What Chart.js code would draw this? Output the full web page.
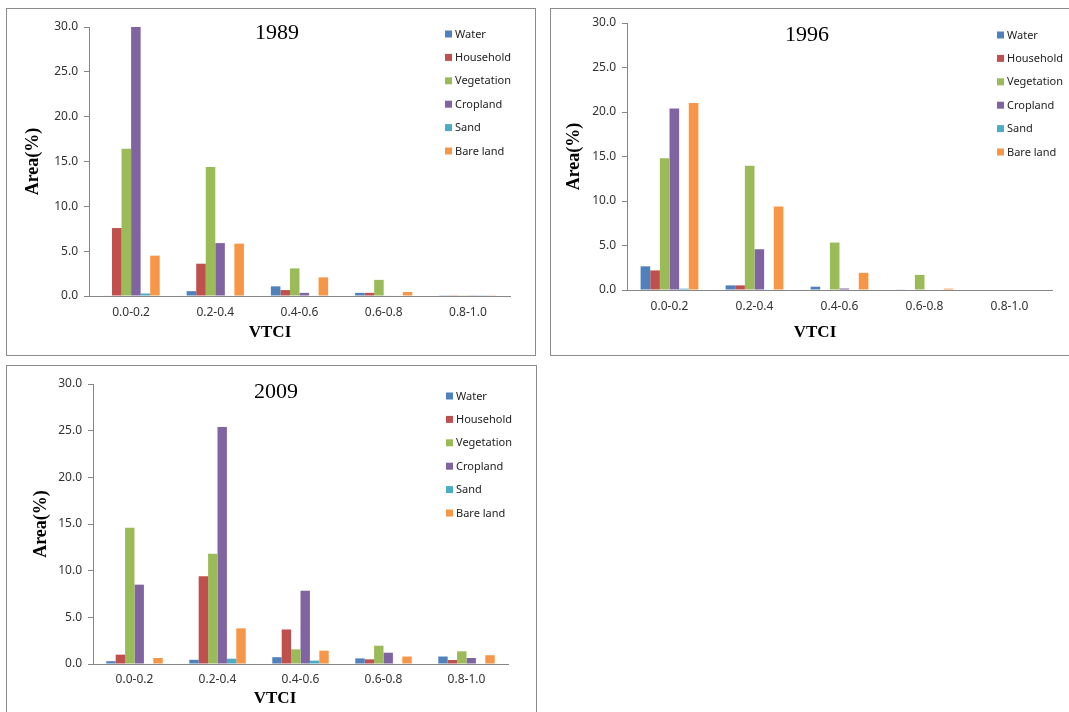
<!DOCTYPE html>
<html lang="en">
  <head>
    <meta charset="UTF-8" />
    <title>VTCI area</title>
    <script src="https://cdn.jsdelivr.net/npm/chart.js"></script>
    <style>
      body {
        margin: 0;
        background: #fff;
        width: 1069px;
        height: 712px;
        overflow: hidden;
        position: relative;
      }
      .box {
        position: absolute;
        border: 1px solid #8c8c8c;
        background: #fff;
      }
      .box canvas {
        position: absolute;
        left: 0;
        top: 0;
      }
    </style>
  </head>
  <body>
    <div class="box" style="left: 6px; top: 8px; width: 528px; height: 346px">
      <canvas id="c1989" width="528" height="346"></canvas>
    </div>
    <div class="box" style="left: 550px; top: 8px; width: 530px; height: 346px">
      <canvas id="c1996" width="530" height="346"></canvas>
    </div>
    <div class="box" style="left: 6px; top: 365px; width: 529px; height: 360px">
      <canvas id="c2009" width="529" height="346"></canvas>
    </div>
  </body>
  <script>
    const categories = ["0.0-0.2", "0.2-0.4", "0.4-0.6", "0.6-0.8", "0.8-1.0"];
    const classes = ["Water", "Household", "Vegetation", "Cropland", "Sand", "Bare land"];
    const colors = ["#4f81bd", "#c0504d", "#9bbb59", "#8064a2", "#4bacc6", "#f79646"];
    const yTicks = [0, 5, 10, 15, 20, 25, 30];

    // 1989
    const water1989 = [0.05, 0.54, 1.08, 0.35, 0.08];
    const household1989 = [7.58, 3.6, 0.66, 0.35, 0.08];
    const vegetation1989 = [16.43, 14.38, 3.08, 1.8, 0.08];
    const cropland1989 = [30.0, 5.9, 0.35, 0.05, 0.08];
    const sand1989 = [0.28, 0.05, 0.05, 0.05, 0.08];
    const bare1989 = [4.5, 5.84, 2.08, 0.45, 0.08];

    // 1996
    const water1996 = [2.66, 0.52, 0.37, 0.07, 0];
    const household1996 = [2.2, 0.52, 0, 0, 0];
    const vegetation1996 = [14.8, 13.95, 5.33, 1.7, 0];
    const cropland1996 = [20.4, 4.58, 0.17, 0, 0];
    const sand1996 = [0.15, 0.05, 0, 0, 0];
    const bare1996 = [21.0, 9.38, 1.93, 0.15, 0];

    // 2009
    const water2009 = [0.3, 0.45, 0.73, 0.6, 0.8];
    const household2009 = [1.0, 9.4, 3.7, 0.5, 0.43];
    const vegetation2009 = [14.6, 11.8, 1.57, 1.96, 1.36];
    const cropland2009 = [8.5, 25.4, 7.85, 1.21, 0.64];
    const sand2009 = [0.05, 0.57, 0.36, 0.05, 0.05];
    const bare2009 = [0.64, 3.82, 1.43, 0.8, 0.94];

    const axisColor = "#868686";
    const tickFont = { family: "'Noto Sans', sans-serif", size: 12 };
    const titleFont = { family: "'Liberation Serif', serif", size: 18, weight: "bold" };

    // year title, legend and VTCI label drawn over the plot, like the excel charts
    const overlay = {
      id: "overlay",
      afterDraw(chart, args, o) {
        const ctx = chart.ctx;
        ctx.save();
        ctx.fillStyle = "#000";
        ctx.font = "22px 'Liberation Serif', serif";
        ctx.textAlign = "center";
        ctx.textBaseline = "middle";
        ctx.fillText(o.title, o.titleX, o.titleY);

        ctx.font = "bold 17px 'Liberation Serif', serif";
        ctx.fillText("VTCI", o.xTitleX, o.xTitleY);

        ctx.font = "11px 'Noto Sans', sans-serif";
        ctx.textAlign = "left";
        chart.data.datasets.forEach((ds, i) => {
          const y = o.legendY + i * 23.4;
          ctx.fillStyle = ds.backgroundColor;
          ctx.fillRect(o.legendX, y - 3.5, 7, 7);
          ctx.fillStyle = "#222";
          ctx.fillText(ds.label, o.legendX + 10, y + 0.5);
        });
        ctx.restore();
      },
    };

    const makeChart = (id, series, opt) => {
      new Chart(document.getElementById(id), {
        type: "bar",
        data: {
          labels: categories,
          datasets: series.map((s, i) => ({
            label: classes[i],
            data: s,
            backgroundColor: colors[i],
            borderWidth: 0,
            categoryPercentage: 0.68,
            barPercentage: 1,
          })),
        },
        options: {
          responsive: false,
          animation: false,
          layout: { padding: { top: opt.padTop, right: opt.padRight, left: 0, bottom: 0 } },
          plugins: {
            legend: { display: false },
            tooltip: { enabled: false },
            overlay: opt.overlay,
          },
          scales: {
            x: {
              grid: { display: false, drawTicks: false },
              border: { display: true, color: axisColor },
              ticks: { font: tickFont, color: "#333", padding: opt.xTickPad },
              afterFit: (s) => {
                s.height = opt.xHeight;
              },
            },
            y: {
              min: 0,
              max: 30,
              afterBuildTicks: (s) => {
                s.ticks = yTicks.map((v) => ({ value: v }));
              },
              grid: {
                display: true,
                drawOnChartArea: false,
                drawTicks: true,
                tickLength: 5,
                color: axisColor,
              },
              border: { display: true, color: axisColor },
              ticks: {
                font: tickFont,
                color: "#333",
                padding: 6,
                callback: (v) => v.toFixed(1),
              },
              title: {
                display: true,
                text: "Area(%)",
                font: titleFont,
                color: "#000",
                padding: { top: opt.yTitlePad, bottom: 0 },
              },
              afterFit: (s) => {
                s.width = opt.yWidth;
              },
            },
          },
        },
        plugins: [overlay],
      });
    };

    makeChart(
      "c1989",
      [water1989, household1989, vegetation1989, cropland1989, sand1989, bare1989],
      {
        padTop: 18, padRight: 25, yWidth: 82, xHeight: 59, xTickPad: 9, yTitlePad: 16,
        overlay: {
          title: "1989", titleX: 270, titleY: 24,
          legendX: 438, legendY: 25, xTitleX: 263, xTitleY: 324,
        },
      }
    );

    makeChart(
      "c1996",
      [water1996, household1996, vegetation1996, cropland1996, sand1996, bare1996],
      {
        padTop: 14, padRight: 29, yWidth: 76, xHeight: 65, xTickPad: 9, yTitlePad: 13,
        overlay: {
          title: "1996", titleX: 256, titleY: 26,
          legendX: 446, legendY: 26, xTitleX: 264, xTitleY: 324,
        },
      }
    );

    makeChart(
      "c2009",
      [water2009, household2009, vegetation2009, cropland2009, sand2009, bare2009],
      {
        padTop: 18, padRight: 28, yWidth: 86, xHeight: 48, xTickPad: 8, yTitlePad: 24,
        overlay: {
          title: "2009", titleX: 269, titleY: 26,
          legendX: 439, legendY: 30, xTitleX: 268, xTitleY: 333,
        },
      }
    );
  </script>
</html>
